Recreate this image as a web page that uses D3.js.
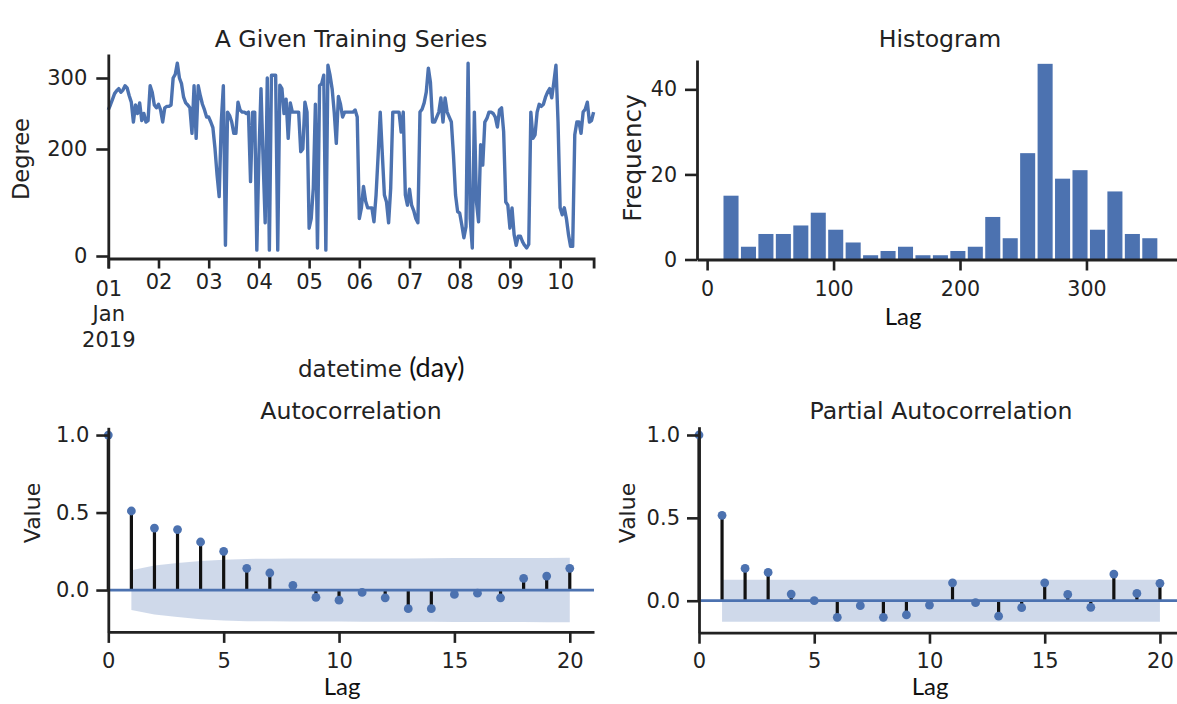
<!DOCTYPE html>
<html lang="en">
<head>
<meta charset="UTF-8">
<title>Training series diagnostics</title>
<script src="https://d3js.org/d3.v7.min.js"></script>
<style>
  body { margin: 0; background: #fff; }
  svg { display: block; }
  text { font-family: "DejaVu Sans", sans-serif; fill: #222; }
  .pasted { font-family: Lato, "Open Sans", sans-serif; fill: #111; }
</style>
</head>
<body>
<svg width="1177" height="704"></svg>
<script>
// hourly wind direction, 2019-01-01 00:00 onward
const degree = [
  255, 262, 270, 278, 282, 285, 280, 283, 289, 286, 275, 266, 238, 262, 250, 265, 240, 250, 238, 240, 289, 280, 262, 258,
  263, 255, 238, 258, 260, 260, 262, 300, 305, 321, 300, 292, 273, 265, 262, 258, 222, 289, 215, 289, 275, 263, 255, 245,
  245, 238, 230, 201, 151, 111, 238, 289, 20, 252, 247, 238, 222, 222, 266, 255, 252, 252, 250, 252, 139, 252, 252, 11,
  189, 285, 180, 62, 300, 11, 304, 304, 304, 11, 290, 285, 250, 270, 215, 265, 252, 252, 252, 252, 195, 200, 266, 252,
  52, 70, 127, 263, 15, 289, 292, 304, 11, 318, 304, 285, 252, 208, 274, 263, 245, 252, 252, 252, 252, 252, 255, 245,
  70, 90, 130, 103, 90, 90, 90, 64, 114, 189, 252, 190, 114, 101, 62, 127, 252, 252, 252, 252, 224, 252, 114, 95,
  125, 95, 85, 70, 62, 252, 256, 265, 280, 314, 294, 238, 238, 245, 252, 272, 238, 272, 252, 245, 238, 189, 114, 83,
  80, 58, 34, 55, 321, 70, 15, 252, 101, 64, 206, 170, 238, 243, 252, 252, 250, 245, 231, 255, 258, 224, 101, 95,
  52, 90, 40, 20, 37, 37, 27, 20, 15, 22, 252, 215, 220, 252, 263, 260, 263, 273, 280, 285, 272, 294, 318, 238,
  90, 77, 90, 70, 40, 18, 18, 220, 238, 238, 222, 252, 256, 266, 238, 240, 252
];
const dayTicks = ["01", "02", "03", "04", "05", "06", "07", "08", "09", "10"];
const degreeTicks = [0, 200, 300];

const histEdges = [12, 25.8, 39.6, 53.4, 67.2, 81, 94.8, 108.6, 122.4, 136.2, 150, 163.8, 177.6,
  191.4, 205.2, 219, 232.8, 246.6, 260.4, 274.2, 288, 301.8, 315.6, 329.4, 343.2, 357];
const histCounts = [15, 3, 6, 6, 8, 11, 7, 4, 1, 2, 3, 1, 1, 2, 3, 10, 5, 25, 46, 19, 21, 7, 16, 6, 5];
const histXTicks = [0, 100, 200, 300];
const histYTicks = [0, 20, 40];

const lags = [0, 1, 2, 3, 4, 5, 6, 7, 8, 9, 10, 11, 12, 13, 14, 15, 16, 17, 18, 19, 20];
const acfValues = [1.0, 0.51, 0.40, 0.39, 0.31, 0.25, 0.14, 0.11, 0.03, -0.047, -0.065, -0.015,
  -0.05, -0.12, -0.12, -0.028, -0.02, -0.05, 0.075, 0.09, 0.14];
const acfConf = [0.128, 0.158, 0.174, 0.188, 0.196, 0.201, 0.202, 0.203, 0.203, 0.203,
  0.204, 0.204, 0.204, 0.205, 0.206, 0.206, 0.206, 0.206, 0.207, 0.208];
const pacfValues = [1.0, 0.515, 0.195, 0.171, 0.04, 0.0, -0.10, -0.03, -0.10, -0.086, -0.026,
  0.108, -0.012, -0.093, -0.042, 0.108, 0.038, -0.04, 0.161, 0.044, 0.105];
const pacfConf = [0.127, 0.127, 0.127, 0.127, 0.127, 0.127, 0.127, 0.127, 0.127, 0.127,
  0.127, 0.127, 0.127, 0.127, 0.127, 0.127, 0.127, 0.127, 0.127, 0.127];
const corrTicksX = [0, 5, 10, 15, 20];
const corrTicksY = [0.0, 0.5, 1.0];

const blue = "#4c72b0";
const ink = "#222";
const svg = d3.select("svg");

function styleAxis(g, size) {
    g.attr("font-family", "DejaVu Sans").attr("font-size", size || 21);
    g.select(".domain").attr("stroke", ink).attr("stroke-width", 2.8);
    g.selectAll(".tick line").attr("stroke", ink).attr("stroke-width", 2.6);
    g.selectAll(".tick text").attr("fill", "#222");
}

function title(x, y, txt) {
    svg.append("text").attr("x", x).attr("y", y).attr("text-anchor", "middle")
        .attr("font-size", 23.6).text(txt);
}

function yLabel(x, y, txt, size) {
    svg.append("text").attr("transform", `translate(${x},${y}) rotate(-90)`)
        .attr("text-anchor", "middle").attr("font-size", size).text(txt);
}

function lagLabel(x, y) {
    svg.append("text").attr("class", "pasted").attr("x", x).attr("y", y)
        .attr("text-anchor", "middle").attr("font-size", 24).text("Lag");
}

// ---------- training series ----------
const start = new Date(2019, 0, 1);
const times = degree.map((d, i) => d3.timeHour.offset(start, i));
const xT = d3.scaleTime().domain([times[0], times[times.length - 1]]).range([108.3, 593.6]);
const yT = d3.scaleLinear().domain([-4.5, 0, 200, 300, 334]).range([258.5, 256, 149, 78, 54]);

svg.append("path")
    .datum(degree)
    .attr("fill", "none")
    .attr("stroke", blue)
    .attr("stroke-width", 3.4)
    .attr("stroke-linejoin", "round")
    .attr("d", d3.line().x((d, i) => xT(times[i])).y(d => yT(d)));

const dayDates = dayTicks.map((d, i) => d3.timeDay.offset(start, i));
const gx = svg.append("g")
    .attr("transform", "translate(0,258.5)")
    .call(d3.axisBottom(xT).tickValues(dayDates).tickSize(10).tickSizeOuter(10).tickPadding(6)
        .tickFormat((d, i) => dayTicks[i]));
styleAxis(gx);
const first = gx.select(".tick text");
first.text(null);
first.append("tspan").attr("x", 0).attr("dy", "1.0em").text("01");
first.append("tspan").attr("x", 0).attr("dy", "1.22em").text("Jan");
first.append("tspan").attr("x", 0).attr("dy", "1.25em").text("2019");

const gy = svg.append("g")
    .attr("transform", "translate(108.3,0)")
    .call(d3.axisLeft(yT).tickValues(degreeTicks).tickSize(12).tickSizeOuter(0).tickPadding(9));
styleAxis(gy);

title(351, 47, "A Given Training Series");
yLabel(29, 159, "Degree", 22.5);
const dt = svg.append("text").attr("x", 298).attr("y", 377).attr("font-size", 23);
dt.append("tspan").text("datetime ");
dt.append("tspan").attr("class", "pasted").attr("font-size", 27).text("(day)");

// ---------- histogram ----------
const xH = d3.scaleLinear().domain([-8, 371.6]).range([697, 1177]);
const yH = d3.scaleLinear().domain([0, 46.9]).range([259.5, 60]);

svg.append("g").selectAll("rect")
    .data(histCounts)
    .join("rect")
    .attr("x", (d, i) => xH(histEdges[i]) + 1.2)
    .attr("width", (d, i) => xH(histEdges[i + 1]) - xH(histEdges[i]) - 2.4)
    .attr("y", d => yH(d))
    .attr("height", d => yH(0) - yH(d))
    .attr("fill", blue);

const hx = svg.append("g")
    .attr("transform", "translate(0,259.5)")
    .call(d3.axisBottom(xH).tickValues(histXTicks).tickSize(11).tickSizeOuter(0).tickPadding(11));
styleAxis(hx, 20.6);
const hy = svg.append("g")
    .attr("transform", "translate(697,0)")
    .call(d3.axisLeft(yH).tickValues(histYTicks).tickSize(12).tickSizeOuter(0).tickPadding(8));
styleAxis(hy, 20.6);

title(940, 47, "Histogram");
yLabel(641, 158, "Frequency", 24.7);
lagLabel(903, 325);

// ---------- correlation panels ----------
function corrPanel(p) {
    const x = d3.scaleLinear().domain(p.xDomain).range(p.xRange);
    const y = d3.scaleLinear().domain(p.yDomain).range(p.yRange);
    const g = svg.append("g");

    const band = lags.slice(1).map((l, i) => ({ lag: l, c: p.conf[i] }));
    g.append("path")
        .datum(band)
        .attr("fill", blue)
        .attr("fill-opacity", 0.27)
        .attr("d", d3.area().x(d => x(d.lag)).y0(d => y(-d.c)).y1(d => y(d.c)));

    g.selectAll(".stem")
        .data(p.values)
        .join("line")
        .attr("class", "stem")
        .attr("x1", (d, i) => x(lags[i]))
        .attr("x2", (d, i) => x(lags[i]))
        .attr("y1", y(0))
        .attr("y2", d => y(d))
        .attr("stroke", "#111")
        .attr("stroke-width", 3.2);

    g.append("line")
        .attr("x1", p.xRange[0]).attr("x2", p.xRange[1])
        .attr("y1", y(0)).attr("y2", y(0))
        .attr("stroke", blue).attr("stroke-width", 2.8);

    g.selectAll(".dot")
        .data(p.values)
        .join("circle")
        .attr("class", "dot")
        .attr("cx", (d, i) => x(lags[i]))
        .attr("cy", d => y(d))
        .attr("r", 4.4)
        .attr("fill", blue);

    const ax = svg.append("g")
        .attr("transform", `translate(0,${p.yRange[0]})`)
        .call(d3.axisBottom(x).tickValues(corrTicksX).tickSize(11).tickSizeOuter(0).tickPadding(p.padX));
    styleAxis(ax);
    const ay = svg.append("g")
        .attr("transform", `translate(${p.xRange[0]},0)`)
        .call(d3.axisLeft(y).tickValues(corrTicksY).tickSize(12).tickSizeOuter(0).tickPadding(7)
            .tickFormat(d3.format(".1f")));
    styleAxis(ay);

    title(p.titleX, 419, p.title);
    yLabel(p.labelX, 513, "Value", 22);
    lagLabel(p.lagX, 695);
}

corrPanel({
    values: acfValues, conf: acfConf, title: "Autocorrelation",
    xDomain: [0, 21.05], xRange: [108.3, 594],
    yDomain: [-0.27, 1.05], yRange: [631.9, 427.3],
    padX: 10, titleX: 351, labelX: 40, lagX: 342
});

corrPanel({
    values: pacfValues, conf: pacfConf, title: "Partial Autocorrelation",
    xDomain: [0, 20.74], xRange: [699, 1177],
    yDomain: [-0.193, 1.05], yRange: [632.7, 426.7],
    padX: 9, titleX: 941, labelX: 635, lagX: 930
});
</script>
</body>
</html>
